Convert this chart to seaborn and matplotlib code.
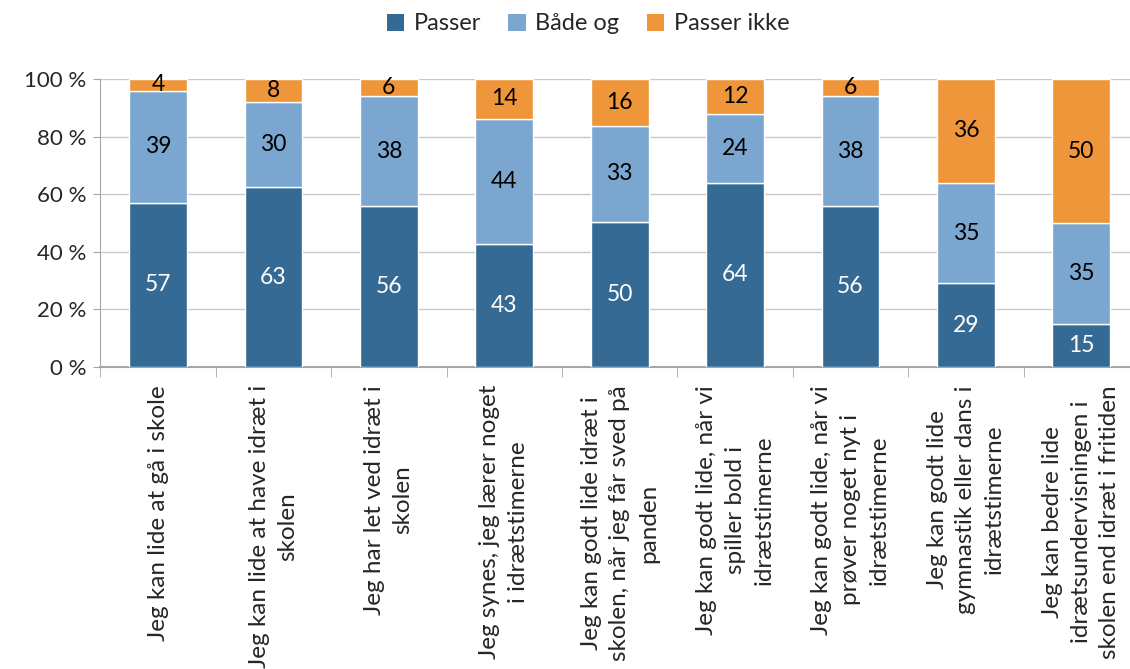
import matplotlib
matplotlib.use("Agg")
import matplotlib.pyplot as plt
import seaborn as sns
import pandas as pd
import numpy as np
from matplotlib.ticker import FixedLocator, FuncFormatter
from matplotlib.patches import Patch

categories = [
    "Jeg kan lide at gå i skole",
    "Jeg kan lide at have idræt i\nskolen",
    "Jeg har let ved idræt i\nskolen",
    "Jeg synes, jeg lærer noget\ni idrætstimerne",
    "Jeg kan godt lide idræt i\nskolen, når jeg får sved på\npanden",
    "Jeg kan godt lide, når vi\nspiller bold i\nidrætstimerne",
    "Jeg kan godt lide, når vi\nprøver noget nyt i\nidrætstimerne",
    "Jeg kan godt lide\ngymnastik eller dans i\nidrætstimerne",
    "Jeg kan bedre lide\nidrætsundervisningen i\nskolen end idræt i fritiden",
]
series_names = ["Passer", "Både og", "Passer ikke"]
passer = [57, 63, 56, 43, 50, 64, 56, 29, 15]
baade_og = [39, 30, 38, 44, 33, 24, 38, 35, 35]
passer_ikke = [4, 8, 6, 14, 16, 12, 6, 36, 50]
colors = ["#346A93", "#7AA6CF", "#F0963A"]
label_colors = ["white", "black", "black"]
yticks = [0, 20, 40, 60, 80, 100]

sns.set_style("white")
plt.rcParams["font.family"] = ["Lato", "DejaVu Sans"]

fig = plt.figure(figsize=(11.3, 6.69), dpi=100)
ax = fig.add_axes([100.3 / 1130, 1 - 367 / 669, (1139 - 100.3) / 1130, (367 - 79) / 669])

vals = np.array([passer, baade_og, passer_ikke], dtype=float)
pct = vals / vals.sum(axis=0) * 100
bottoms = np.zeros(len(categories))
xidx = list(range(len(categories)))
for i, name in enumerate(series_names):
    df = pd.DataFrame({"cat": xidx, "val": pct[i]})
    sns.barplot(data=df, x="cat", y="val", color=colors[i], bottom=bottoms,
                width=0.5, ax=ax, saturation=1, native_scale=True, zorder=3)
    for j in range(len(categories)):
        ax.text(j, bottoms[j] + pct[i][j] / 2, f"{int(vals[i][j])}",
                ha="center", va="center", fontsize=16.5, color=label_colors[i], zorder=4)
    bottoms = bottoms + pct[i]

ax.set_xlim(-0.5, len(categories) - 0.5)
ax.set_ylim(0, 100)
ax.set_yticks(yticks)
ax.yaxis.set_major_formatter(FuncFormatter(lambda v, p: f"{int(v)} %"))
ax.tick_params(axis="y", labelsize=16, length=5, color="#A6A6A6", pad=5, left=True)
ax.grid(axis="y", color="#C8C8C8", linewidth=1, zorder=0)
ax.grid(axis="x", visible=False)

ax.set_xticks(xidx)
ax.set_xticklabels(categories, rotation=90, fontsize=17.5, ha="center", va="top",
                   multialignment="center", linespacing=1.45)
ax.tick_params(axis="x", which="major", length=0, pad=13)
ax.xaxis.set_minor_locator(FixedLocator(np.arange(-0.5, len(categories), 1.0)))
ax.tick_params(axis="x", which="minor", length=7, color="#A6A6A6", bottom=True)
ax.set_xlabel("")
ax.set_ylabel("")

for s in ["top", "right"]:
    ax.spines[s].set_visible(False)
ax.spines["left"].set_color("#A6A6A6")
ax.spines["bottom"].set_color("#A6A6A6")
ax.spines["bottom"].set_linewidth(1.5)

handles = [Patch(facecolor=c, edgecolor="none") for c in colors]
fig.legend(handles, series_names, loc="center", bbox_to_anchor=(588 / 1130, 1 - 24 / 669),
           ncol=3, frameon=False, fontsize=17, handlelength=0.75, handleheight=0.75,
           handletextpad=0.4, columnspacing=1.15)

fig.savefig("out.png", dpi=100)
